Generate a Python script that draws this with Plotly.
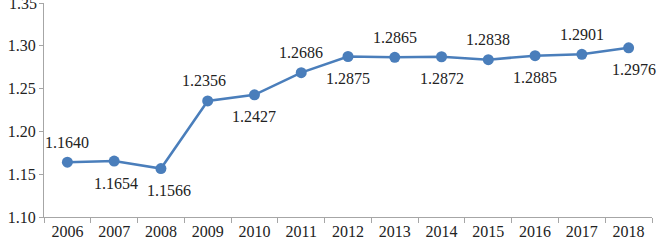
import plotly.graph_objects as go

years = ["2006", "2007", "2008", "2009", "2010", "2011", "2012",
         "2013", "2014", "2015", "2016", "2017", "2018"]
values = [1.1640, 1.1654, 1.1566, 1.2356, 1.2427, 1.2686, 1.2875,
          1.2865, 1.2872, 1.2838, 1.2885, 1.2901, 1.2976]
y_ticks = [1.10, 1.15, 1.20, 1.25, 1.30, 1.35]
label_pos = ["above", "below", "below", "above", "below", "above", "below",
             "above", "below", "above", "below", "above", "below"]
label_dx = [0, 2, 8, -4, 0, 0, 0, 0, 0, 0, 0, 0, 5]

color = "#4a7ebb"
font_family = "'Liberation Serif', 'Times New Roman', Times, 'DejaVu Serif', serif"

fig = go.Figure()
fig.add_trace(go.Scatter(
    x=years, y=values, mode="lines+markers",
    line=dict(color=color, width=2.5),
    marker=dict(color=color, size=11),
    showlegend=False,
    hoverinfo="skip",
))

for i, (v, p, dx) in enumerate(zip(values, label_pos, label_dx)):
    fig.add_annotation(
        x=i, y=v, text=f"{v:.4f}", showarrow=False,
        xshift=dx, yshift=20 if p == "above" else -22,
        font=dict(family=font_family, size=16, color="#222222"),
    )

# top tick label (partly clipped in the reference)
fig.add_annotation(
    xref="paper", x=0, y=y_ticks[-1], text=f"{y_ticks[-1]:.2f}",
    showarrow=False, xanchor="right", yanchor="middle", xshift=-5,
    font=dict(family=font_family, size=16, color="#222222"),
)

fig.update_layout(
    width=663, height=248,
    margin=dict(l=44, r=11, t=3, b=31),
    paper_bgcolor="white", plot_bgcolor="white",
    font=dict(family=font_family, size=16, color="#222222"),
)
fig.update_xaxes(
    type="category", range=[-0.5, len(years) - 0.5], showgrid=False,
    showline=True, linecolor="#a6a6a6",
    linewidth=1, ticks="outside", tickson="boundaries", ticklen=5,
    tickcolor="#a6a6a6", tickfont=dict(family=font_family, size=16),
    tickangle=0,
)
fig.update_yaxes(
    range=[1.10, 1.35], tickmode="array", tickvals=y_ticks,
    ticktext=[f"{t:.2f}" for t in y_ticks], showgrid=False,
    showline=True, linecolor="#a6a6a6", linewidth=1, ticks="outside",
    ticklen=4, tickcolor="#a6a6a6",
    tickfont=dict(family=font_family, size=16), zeroline=False,
)

fig.write_html("out.html")
